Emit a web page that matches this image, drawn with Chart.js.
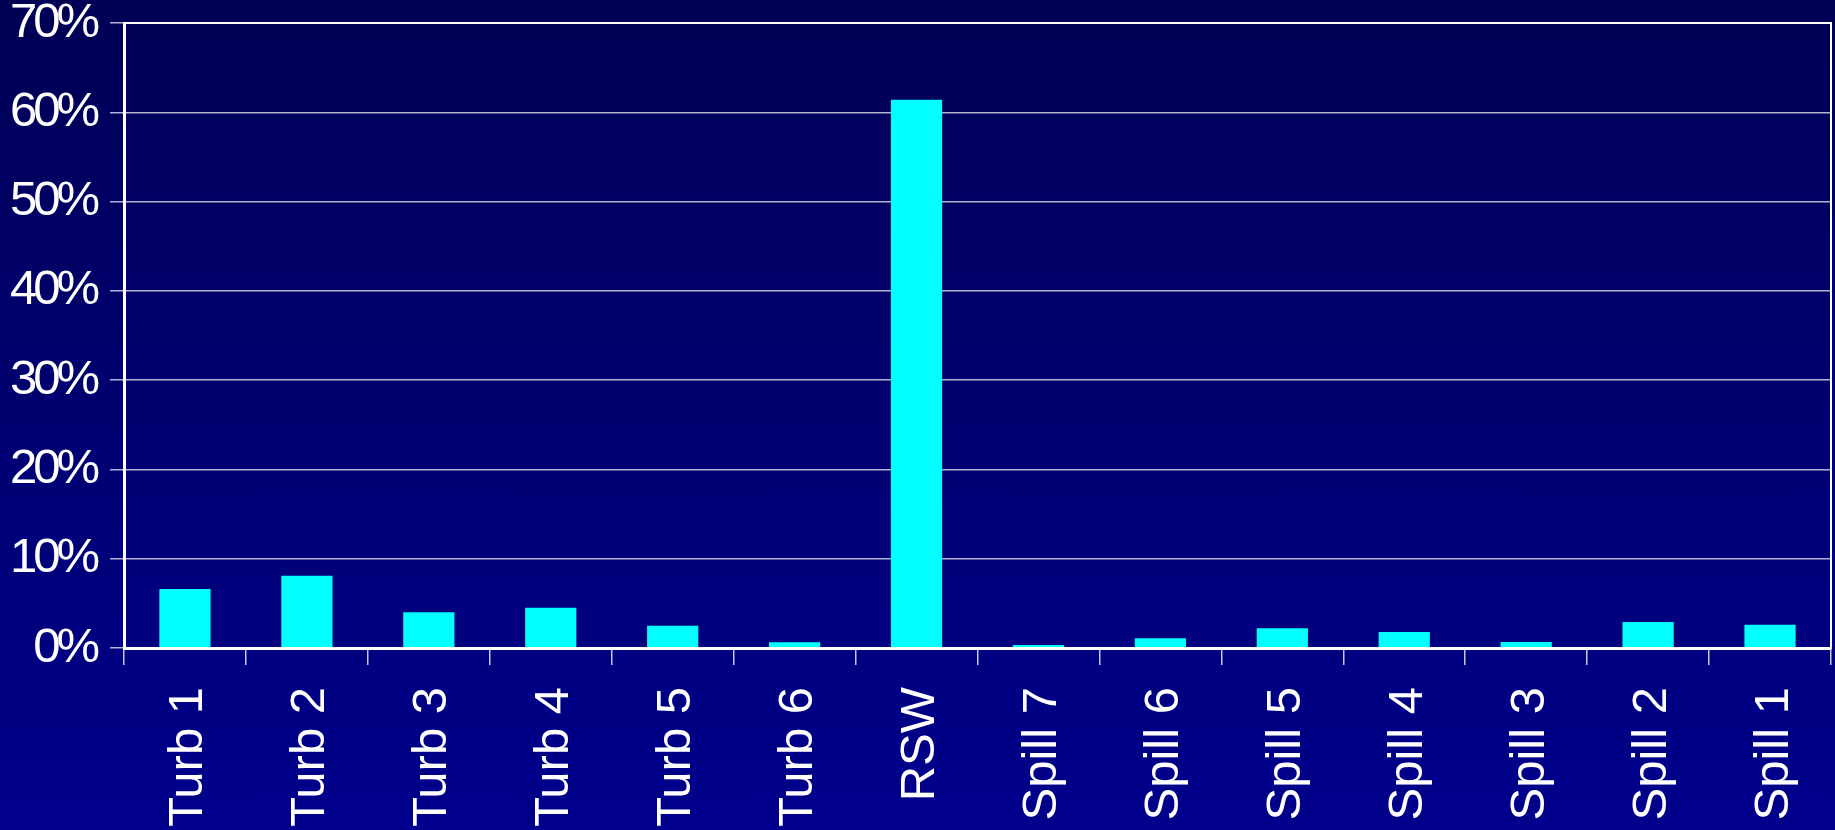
<!DOCTYPE html>
<html>
<head>
<meta charset="utf-8">
<script src="https://cdn.jsdelivr.net/npm/chart.js@4.4.1/dist/chart.umd.min.js"></script>
<style>
    html, body { margin: 0; padding: 0; }
    body {
        width: 1835px;
        height: 830px;
        background: linear-gradient(to bottom, #000055, #00008c);
    }
    #chartContainer { width: 1835px; height: 830px; }
</style>
</head>
<body>
<div id="chartContainer"><canvas id="flowChart"></canvas></div>
<script>
const categorias = ['Turb 1', 'Turb 2', 'Turb 3', 'Turb 4', 'Turb 5', 'Turb 6', 'RSW',
    'Spill 7', 'Spill 6', 'Spill 5', 'Spill 4', 'Spill 3', 'Spill 2', 'Spill 1'];
const valores = [0.066, 0.081, 0.040, 0.045, 0.025, 0.0065, 0.614,
    0.0035, 0.011, 0.022, 0.018, 0.0067, 0.029, 0.026];
const ticksY = [0, 0.1, 0.2, 0.3, 0.4, 0.5, 0.6, 0.7];

const fonteEixo = { family: 'Liberation Sans, Arial', size: 49, lineHeight: 1 };

// moldura branca em volta da área do gráfico
const moldura = {
    id: 'moldura',
    afterDraw(chart) {
        const { ctx, chartArea } = chart;
        ctx.save();
        ctx.strokeStyle = '#ffffff';
        ctx.lineWidth = 2;
        ctx.strokeRect(chartArea.left, chartArea.top, chartArea.right - chartArea.left, chartArea.bottom - chartArea.top);
        ctx.restore();
    }
};

// rótulos do eixo Y mais apertados, como no original
const apertaRotulos = {
    id: 'apertaRotulos',
    afterLayout(chart) {
        const s = chart.scales.y;
        if (s && !s._apertado) {
            const orig = s.drawLabels.bind(s);
            s.drawLabels = function (area) {
                const c = this.ctx;
                c.save();
                c.letterSpacing = '-4px';
                orig(area);
                c.restore();
            };
            s._apertado = true;
        }
    }
};

new Chart(document.getElementById('flowChart'), {
    type: 'bar',
    data: {
        labels: categorias,
        datasets: [{
            data: valores,
            backgroundColor: '#00ffff',
            borderWidth: 0,
            categoryPercentage: 0.84,
            barPercentage: 0.5
        }]
    },
    options: {
        responsive: true,
        maintainAspectRatio: false,
        animation: false,
        devicePixelRatio: 1,
        layout: { padding: { top: 23, right: 4, bottom: 0, left: 0 } },
        plugins: {
            legend: { display: false },
            tooltip: { enabled: false }
        },
        scales: {
            x: {
                afterFit: (s) => { s.height = 182; s.paddingLeft = 0; s.paddingRight = 0; },
                grid: {
                    display: true,
                    offset: true,
                    drawOnChartArea: false,
                    color: '#c8c8dc',
                    lineWidth: 1.5,
                    tickLength: 17
                },
                border: { color: '#ffffff', width: 3 },
                ticks: {
                    color: '#ffffff',
                    font: { family: 'Liberation Sans, Arial', size: 49 },
                    minRotation: 90,
                    maxRotation: 90,
                    padding: 22,
                    labelOffset: 4,
                    autoSkip: false
                }
            },
            y: {
                min: 0,
                max: 0.7,
                afterFit: (s) => { s.width = 124; s.paddingTop = 0; s.paddingBottom = 0; },
                afterBuildTicks: (s) => { s.ticks = ticksY.map(v => ({ value: v })); },
                grid: {
                    color: '#b4b4d2',
                    lineWidth: 1.5,
                    tickLength: 14
                },
                border: { color: '#ffffff', width: 3 },
                ticks: {
                    color: '#ffffff',
                    font: fonteEixo,
                    padding: 14,
                    callback: (v) => Math.round(v * 100) + '%'
                }
            }
        }
    },
    plugins: [moldura, apertaRotulos]
});
</script>
</body>
</html>
